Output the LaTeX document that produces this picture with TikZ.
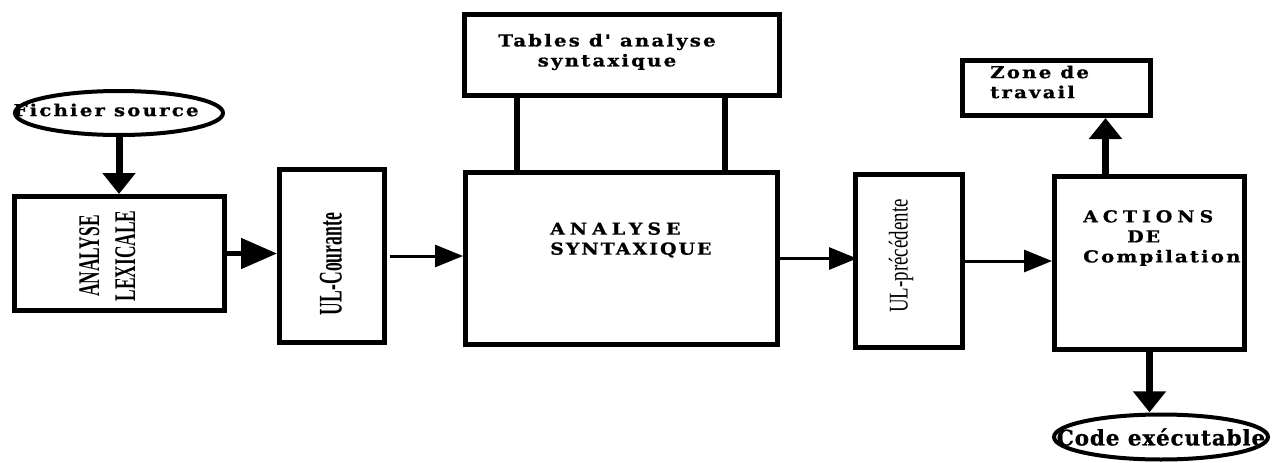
\documentclass[tikz,border=0pt]{standalone}
\usepackage{fontspec}
\usepackage{graphicx}
\usetikzlibrary{arrows.meta,shapes.geometric}
\newfontfamily\wfont{DejaVu Serif}[LetterSpace=13,FakeStretch=1.2,BoldFeatures={FakeBold=0.8}]
\newfontfamily\wcaps{DejaVu Serif}[LetterSpace=12,FakeStretch=1.15,BoldFeatures={FakeBold=0.8}]
\newfontfamily\wcapsx{DejaVu Serif}[LetterSpace=30,FakeStretch=1.15,BoldFeatures={FakeBold=0.8}]
\newfontfamily\wbig{DejaVu Serif}[LetterSpace=4,BoldFeatures={FakeBold=0.8}]
\newfontfamily\cfont{Liberation Serif}
\begin{document}
\begin{tikzpicture}[x=1pt,y=-1pt,
  box/.style={draw, line width=5pt, rectangle, inner sep=0pt},
  frame/.style={rectangle, inner sep=0pt},
  ellline/.style={line width=4pt},
  htxt/.style={font=\wfont\bfseries\fontsize{16.5}{20}\selectfont, inner sep=0pt},
  hcaps/.style={font=\wcaps\bfseries\fontsize{16.5}{20}\selectfont, inner sep=0pt},
  bigtxt/.style={font=\wbig\bfseries\fontsize{21.5}{24}\selectfont, inner sep=0pt},
  vtxt/.style={rotate=90, inner sep=0pt},
  bigarrow/.style={line width=7pt, -{Triangle[length=21pt,width=32pt]}},
  medarrow/.style={line width=5pt, -{Triangle[length=36pt,width=30pt]}},
  thinarrow/.style={line width=3pt, -{Triangle[length=28pt,width=22pt]}},
  bar/.style={line width=6.5pt}
]
\useasboundingbox (0,0) rectangle (1280,463);

% ellipse nodes (frame node gives the anchors, ellipse drawn on it)
\node[frame, minimum width=212pt, minimum height=48pt] (fich) at (119,113) {};
\draw[ellline] (fich.center) ellipse [x radius=104pt, y radius=22pt];
\node[htxt] (fichtxt) at (106,110) {Fichier source};

\node[box, minimum width=210pt, minimum height=114pt] (lex) at (119.5,253.5) {};
\node[vtxt] (lextxt) at (110,256) {\scalebox{0.58}[1]{\cfont\bfseries\fontsize{30}{36}\selectfont
  \begin{tabular}{@{}c@{}}ANALYSE\\LEXICALE\end{tabular}}};

\node[box, minimum width=105pt, minimum height=173pt] (ulc) at (332,256) {};
\node[vtxt] (ulctxt) at (331,264) {\scalebox{0.535}[1]{\cfont\bfseries\fontsize{33}{36}\selectfont UL-Courante}};

\node[box, minimum width=315pt, minimum height=81pt] (tab) at (622,55) {};
\node[htxt, align=center] (tabtxt) at (607,52) {Tables d' analyse\\syntaxique};

\node[box, minimum width=312pt, minimum height=172pt] (syn) at (621.5,258.5) {};
\node[hcaps, align=left, anchor=west] (syntxt) at (550,240) {{\wcapsx ANALYSE}\\SYNTAXIQUE};

\node[box, minimum width=107pt, minimum height=173pt] (ulp) at (909,261) {};
\node[vtxt] (ulptxt) at (901,256) {\scalebox{0.70}[1]{\cfont\fontsize{27}{30}\selectfont UL-précédente}};

\node[box, minimum width=190pt, minimum height=173pt] (act) at (1149.5,263) {};
\node[hcaps, align=left, anchor=west] (acttxt) at (1083,238) {{\wcapsx ACTIONS}\\\hspace*{44pt}DE\\{\wfont Compilation}};

\node[box, minimum width=188pt, minimum height=55pt] (zone) at (1056.5,88) {};
\node[htxt, align=left, anchor=west] (zonetxt) at (990,82) {Zone de\\travail};

\node[frame, minimum width=218pt, minimum height=49pt] (code) at (1161,437) {};
\draw[ellline] (code.center) ellipse [x radius=107pt, y radius=22.5pt];
\node[bigtxt] (codetxt) at (1161,437) {Code exécutable};

% connectors
\draw[bigarrow] (fich.south) -- (fich.south |- lex.north);
\draw[medarrow] (lex.east) -- (lex.east -| ulc.west);
\draw[thinarrow, shorten <=3pt] (ulc.east) -- (ulc.east -| syn.west);
\draw[thinarrow, shorten >=-4pt] (syn.east) -- (syn.east -| ulp.west);
\draw[thinarrow] (ulp.east) -- (ulp.east -| act.west);
\draw[bigarrow] ([xshift=-44pt]act.north) -- ([xshift=-44pt]act.north |- zone.south);
\draw[bigarrow] (act.south) -- (act.south |- code.north);
\draw[bar] ([xshift=55pt]tab.south west) -- ([xshift=54pt]syn.north west);
\draw[bar] ([xshift=263pt]tab.south west) -- ([xshift=262pt]syn.north west);
\end{tikzpicture}
\end{document}
